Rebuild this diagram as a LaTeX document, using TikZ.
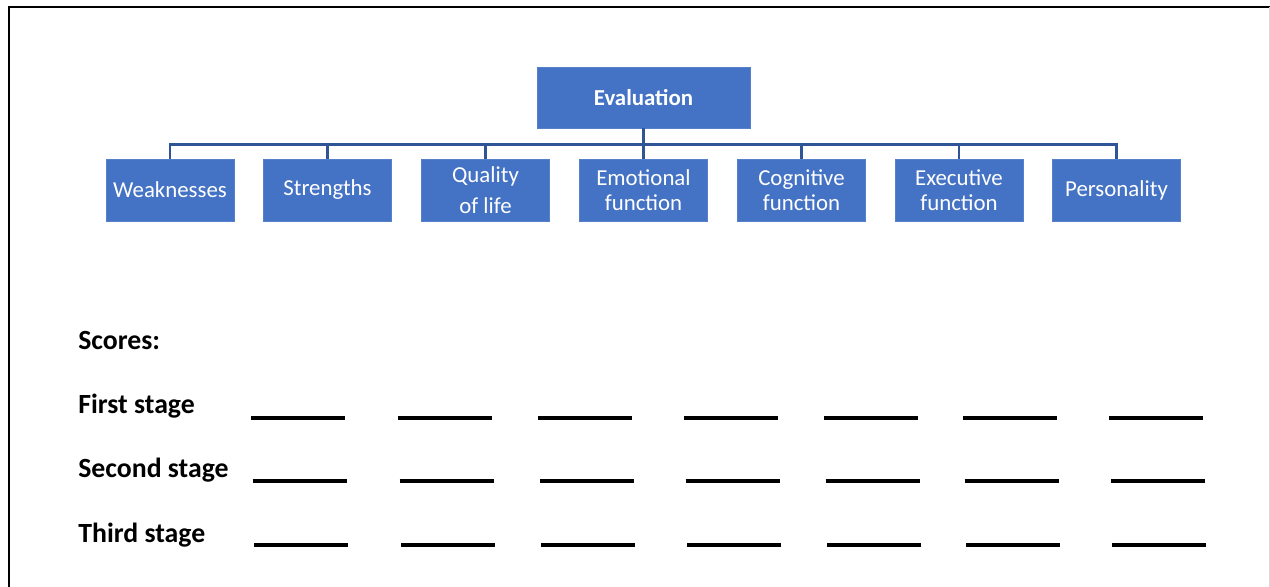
\documentclass[tikz,border=0pt]{standalone}
\usepackage{fontspec}
\setmainfont{Carlito}
\usepackage{tikz}
\usetikzlibrary{positioning,calc}
\definecolor{evBlue}{HTML}{4472C4}
\definecolor{evLink}{HTML}{2F5597}
\tikzset{
  setEval/.style={
    font=\fontsize{13}{14.2}\selectfont,
    line cap=butt, line join=miter,
  },
  topBox/.style={
    fill=evBlue, draw=evBlue!90!white, line width=0.3pt, text=white,
    minimum width=4.26cm, minimum height=1.22cm, inner sep=1pt,
    align=center, font=\fontsize{13}{14.2}\selectfont\bfseries,
  },
  subBox/.style={
    fill=evBlue, draw=evBlue!90!white, line width=0.3pt, text=white,
    minimum width=2.56cm, minimum height=1.24cm, inner sep=1pt,
    align=center,
  },
  link/.style={evLink, line width=1.5pt},
  rowLabel/.style={
    anchor=base west, inner sep=0pt,
    font=\fontsize{15.8}{18}\selectfont\bfseries,
  },
  blank/.style={black, line width=1.8pt},
  frame/.style={black, line width=0.7pt},
}

\begin{document}
\begin{tikzpicture}[setEval, x=0.2mm, y=-0.2mm]

\useasboundingbox (0,0) rectangle (1270,587);

% ============================================================
% Page frame (left and top edges, faint right edge)
% ============================================================
\draw[frame] (9,587) -- (9,7) -- (1270,7);
\draw[black!15, line width=0.5pt] (1269,7) -- (1269,587);

% ============================================================
% Hierarchy: evaluation and its seven areas
% ============================================================
\node[topBox] (eval) at (643.5, 97.5) {Evaluation};

\node[subBox] (weak) at (170, 190)   {Weaknesses};
\node[subBox] (str)  at (327.5, 190) {Strengths};
\node[subBox] (qol)  at (485.5, 190) {Quality\\[3.4pt]of life};
\node[subBox] (emo)  at (643.5, 190) {Emotional\\function};
\node[subBox] (cog)  at (801.5, 190) {Cognitive\\function};
\node[subBox] (exe)  at (959, 190)   {Executive\\function};
\node[subBox] (pers) at (1116.5, 190) {Personality};

% Bus connectors -- eval down to the bus, then down into each box
\foreach \n in {weak, str, qol, emo, cog, exe, pers} {
  \draw[link] (eval.south) -- ++(0,16) -| (\n.north);
}

% ============================================================
% Score sheet
% ============================================================
\node[rowLabel] (scores) at (78, 349) {Scores:};
\node[rowLabel] (first)  at (78, 413) {First stage};
\node[rowLabel] (second) at (78, 477) {Second stage};
\node[rowLabel] (third)  at (78, 542) {Third stage};

% Blank lines to fill in, one per area and stage
\foreach \y/\dx in {418/0, 481/1.5, 545/3} {
  \foreach \x in {251, 398, 538, 684, 824, 963, 1109} {
    \draw[blank] (\x+\dx, \y) -- (\x+\dx+94, \y);
  }
}

\end{tikzpicture}
\end{document}
